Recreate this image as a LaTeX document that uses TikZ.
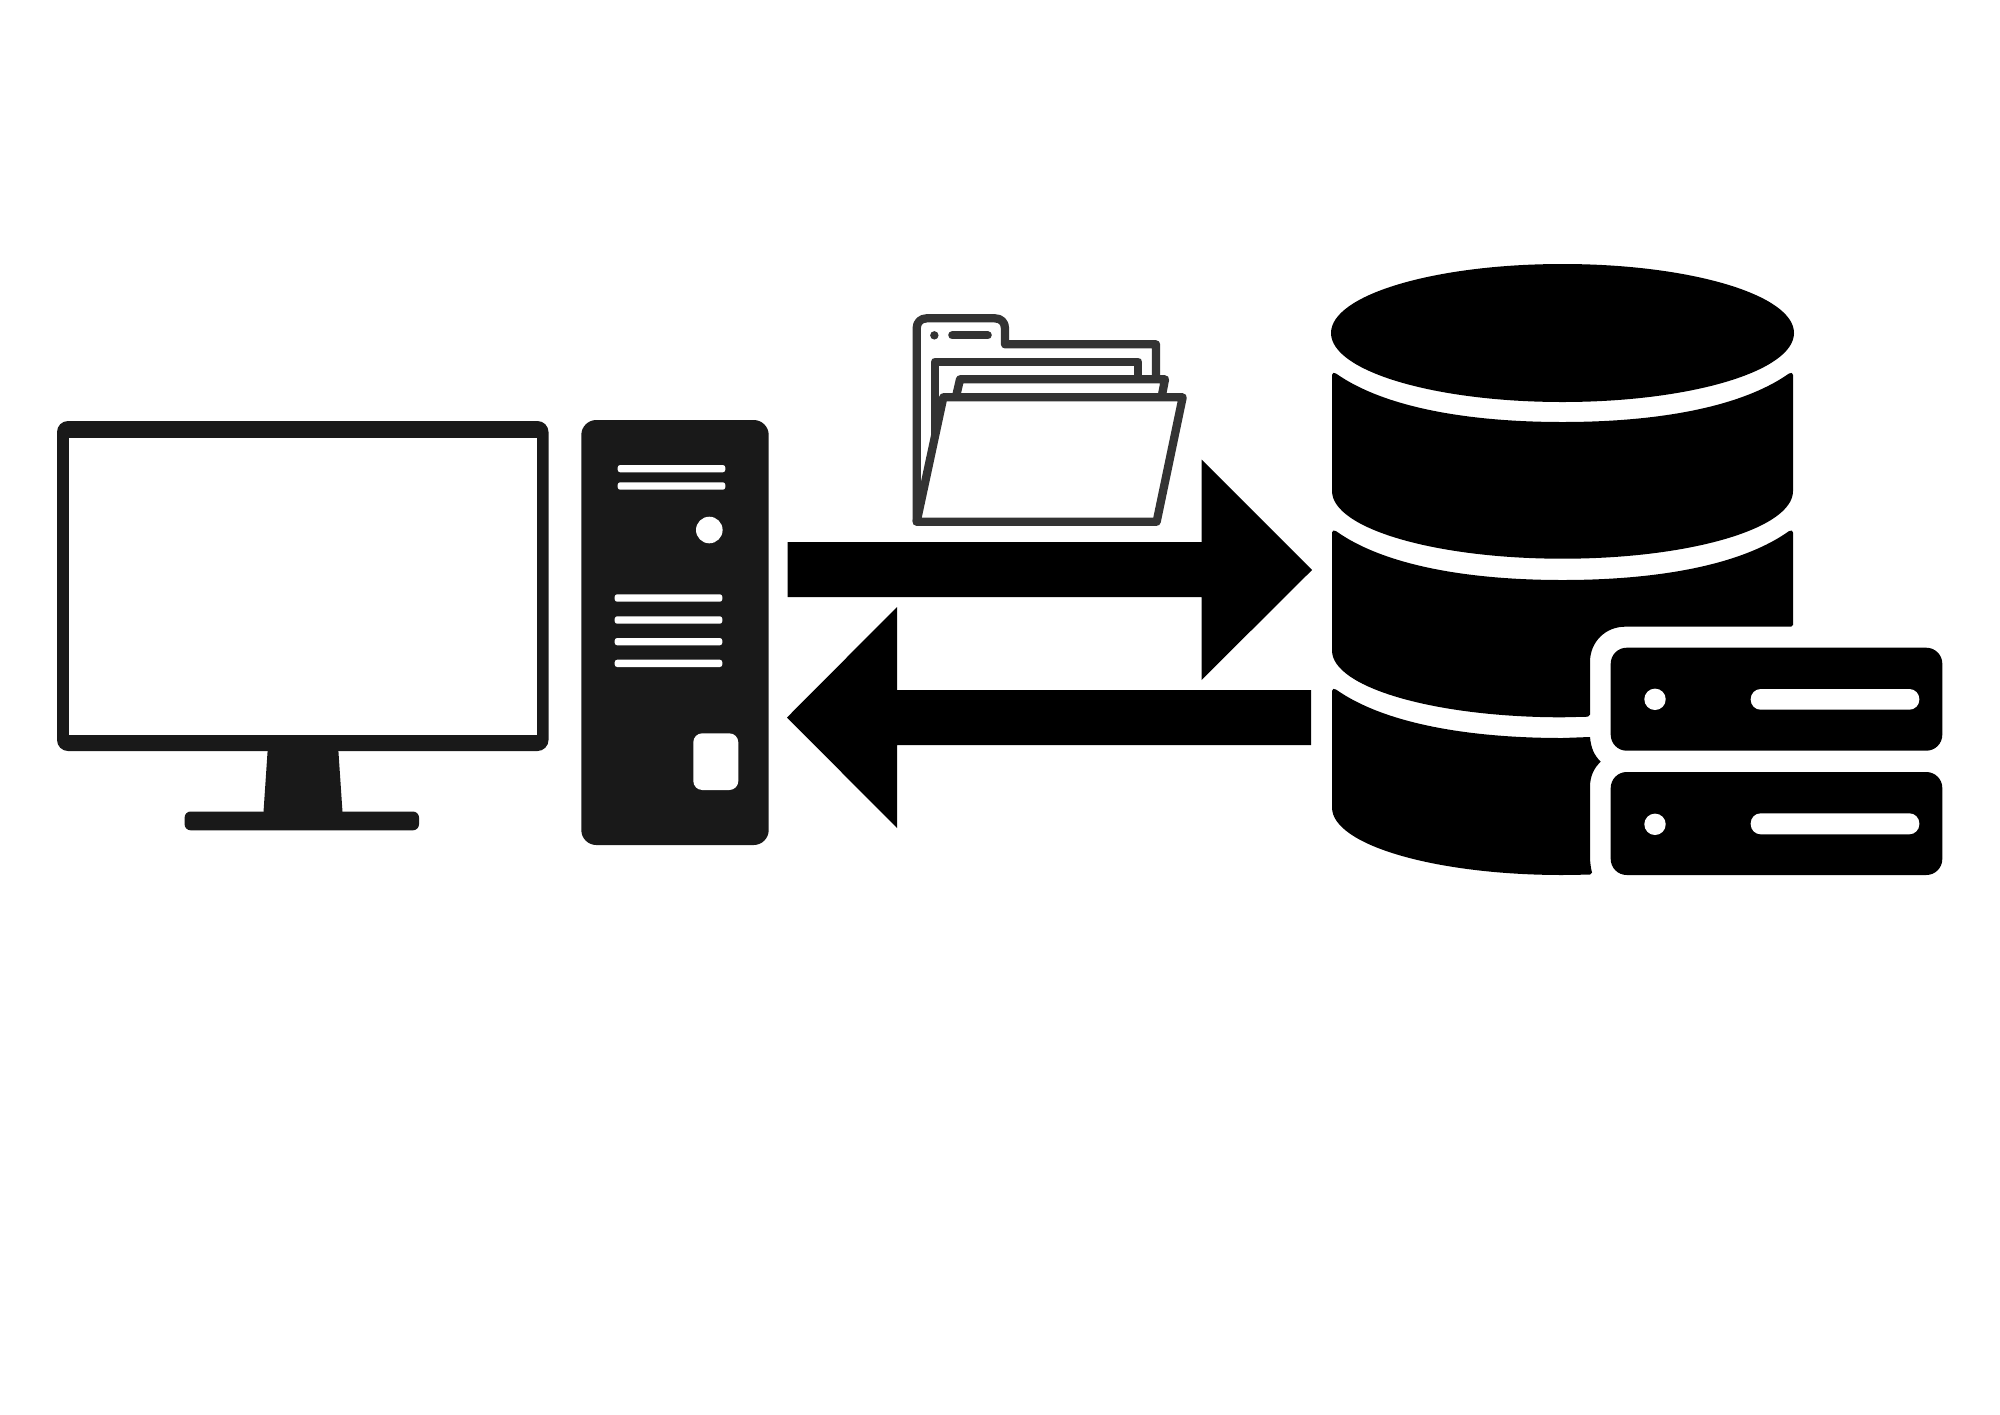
\documentclass[tikz,border=0pt]{standalone}
\tikzset{
  pcdark/.style={fill=black!90},
  slot/.style={fill=white,rounded corners=2.5pt},
  solidblack/.style={fill=black},
  foldline/.style={draw=black!80,line width=8.3pt,line join=round,line cap=round},
}
\begin{document}
\begin{tikzpicture}[x=1pt,y=-1pt]
\useasboundingbox (0,0) rectangle (2000,1414);
\fill[white] (0,0) rectangle (2000,1414);

% monitor
\fill[pcdark] (263.5,812) -- (268,745) -- (338,745) -- (342.5,812) -- cycle;
\fill[pcdark,rounded corners=6pt] (184.6,811.5) rectangle (419,830.3);
\fill[pcdark,rounded corners=11pt] (57,421) rectangle (548.5,751);
\fill[white] (69,437.5) rectangle (537,735);

% tower
\fill[pcdark,rounded corners=15pt] (581.3,420) rectangle (768.7,845);
\fill[slot] (617.7,465) rectangle (725.3,472.3);
\fill[slot] (617.7,482.3) rectangle (725.3,489.7);
\fill[white] (709.3,530) circle[radius=13.3pt];
\fill[slot] (614.7,594.3) rectangle (722.3,601.7);
\fill[slot] (614.7,616.3) rectangle (722.3,623.7);
\fill[slot] (614.7,638) rectangle (722.3,645.3);
\fill[slot] (614.7,659.7) rectangle (722.3,667);
\fill[white,rounded corners=9pt] (693.3,733.3) rectangle (738.3,790);

% arrows
\fill[solidblack] (787.5,542) -- (1201.5,542) -- (1201.5,459.5) -- (1312,570) -- (1201.5,680) -- (1201.5,597) -- (787.5,597) -- cycle;
\fill[solidblack] (1311,690) -- (897,690) -- (897,607) -- (787,717.5) -- (897,828) -- (897,745) -- (1311,745) -- cycle;

% folder
\begin{scope}[shift={(880,290)},x=0.33333pt,y=-0.33333pt]
  \draw[foldline] (110,695) -- (110,115)
     .. controls (110,97) and (122,85) .. (140,85) -- (345,85)
     .. controls (363,85) and (375,97) .. (375,115) -- (375,163) -- (828,163) -- (828,262);
  \draw[foldline] (165,440) -- (165,215) -- (775,215) -- (775,262);
  \draw[foldline] (228,320) -- (240,268) -- (855,268) -- (845,320);
  \draw[foldline,fill=white] (190,322) -- (908,322) -- (830,695) -- (110,695) -- cycle;
  \fill[black!80] (163,136) circle[radius=4.2pt];
  \draw[foldline] (217,136) -- (323,136);
\end{scope}

% database
\fill[solidblack] (1562.5,333) ellipse[x radius=231.5pt,y radius=69pt];
\fill[solidblack] (1332,375) .. controls (1332,373) and (1334,372) .. (1336,373.5)
  .. controls (1385,408) and (1470,422) .. (1562.5,422)
  .. controls (1655,422) and (1740,408) .. (1789,373.5)
  .. controls (1791,372) and (1793,373) .. (1793,375) -- (1793,491)
  .. controls (1793,528.4) and (1690,558.7) .. (1562.5,558.7)
  .. controls (1435,558.7) and (1332,528.4) .. (1332,491) -- cycle;
\fill[solidblack] (1332,532.6) .. controls (1332,530.6) and (1334,529.6) .. (1336,531.1)
  .. controls (1385,566) and (1470,580) .. (1562.5,580)
  .. controls (1655,580) and (1740,566) .. (1789,531.1)
  .. controls (1791,529.6) and (1793,530.6) .. (1793,532.6) -- (1793,625) -- (1791,626.7) -- (1625,626.7)
  .. controls (1605.8,626.7) and (1590,641.5) .. (1590,662) -- (1590,714.7) -- (1588,716.7) -- (1562.5,717.3)
  .. controls (1435,717.3) and (1332,687.4) .. (1332,650.5) -- cycle;
\fill[solidblack] (1332,691) .. controls (1332,689) and (1334,688) .. (1336,689.5)
  .. controls (1385,724) and (1470,738) .. (1562.5,738) -- (1590,737)
  .. controls (1591,748) and (1594,755) .. (1600.7,761.7)
  .. controls (1594,768) and (1590,776) .. (1590,787) -- (1590,856)
  .. controls (1590,863) and (1591,869) .. (1592,872.5) -- (1590,874.6) -- (1562.5,875)
  .. controls (1435,875) and (1332,844.8) .. (1332,807.5) -- cycle;

% servers
\fill[solidblack,rounded corners=16pt] (1610.7,647.7) rectangle (1942.3,750.7);
\fill[white] (1655,699.3) circle[radius=10.7pt];
\fill[white,rounded corners=10pt] (1750.7,689) rectangle (1919.3,709.7);
\fill[solidblack,rounded corners=16pt] (1610.7,772) rectangle (1942.3,875);
\fill[white] (1655,824.3) circle[radius=10.7pt];
\fill[white,rounded corners=10pt] (1750.7,813.3) rectangle (1919.3,834.3);
\end{tikzpicture}
\end{document}
